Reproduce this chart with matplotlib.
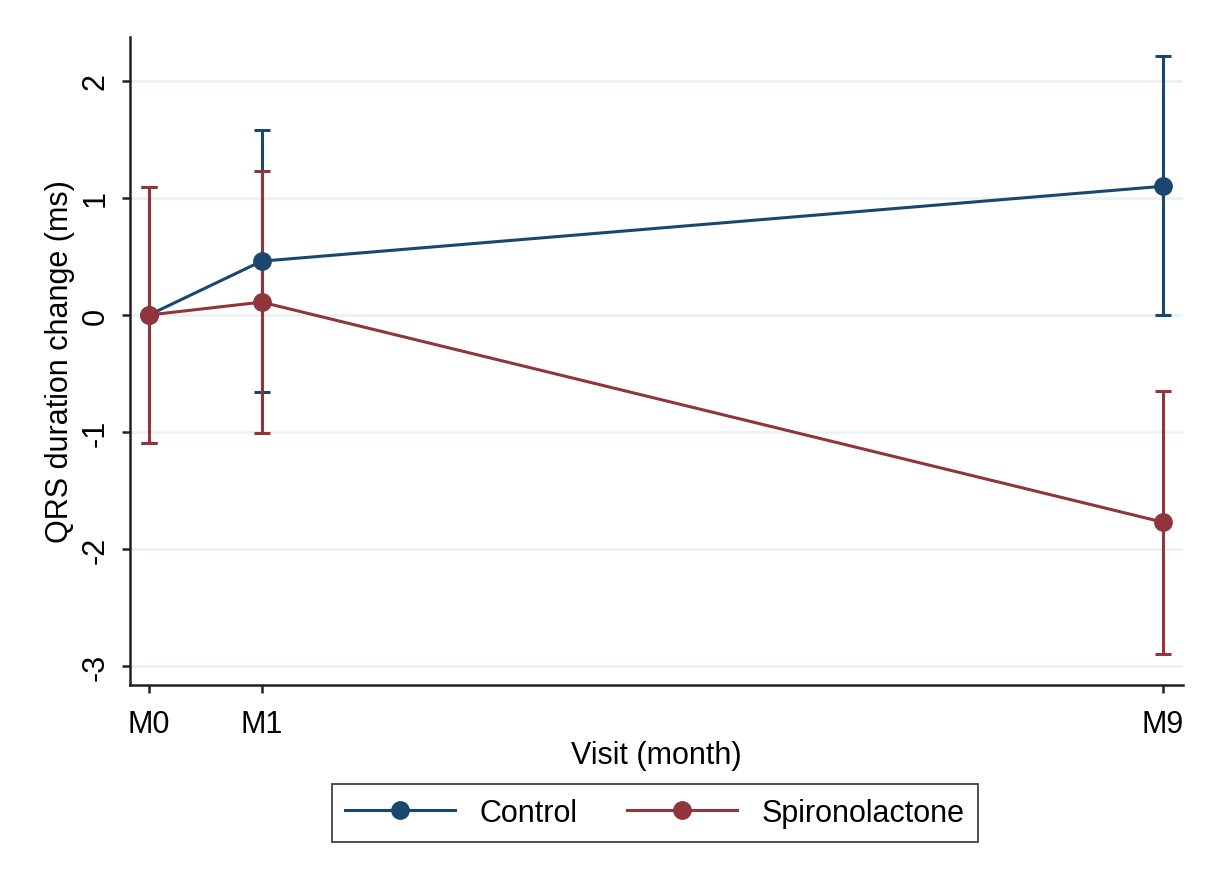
import matplotlib
matplotlib.use("Agg")
from matplotlib import pyplot as plt

plt.rcParams['font.family'] = ['Liberation Sans', 'DejaVu Sans']

# visit months and tick labels
months = [0, 1, 9]
visit_labels = ["M0", "M1", "M9"]

# mean change and 95% CI bounds (ms)
control_mean = [0.0, 0.46, 1.10]
control_lo = [-1.09, -0.66, 0.0]
control_hi = [1.09, 1.58, 2.21]

spiro_mean = [0.0, 0.11, -1.77]
spiro_lo = [-1.09, -1.01, -2.90]
spiro_hi = [1.09, 1.23, -0.65]

navy = "#1a476f"
maroon = "#90353b"

fig = plt.figure(figsize=(12.08, 8.79), dpi=100)
ax = fig.add_axes([0.1076, 0.2196, 0.8714, 0.7372])

def draw(mean, lo, hi, color, label):
    err = [[m - l for m, l in zip(mean, lo)], [h - m for m, h in zip(mean, hi)]]
    ax.errorbar(months, mean, yerr=err, fmt="none", ecolor=color,
                elinewidth=2.2, capsize=6, capthick=2.2, zorder=2)
    ax.plot(months, mean, color=color, lw=2.2, marker="o", markersize=12.5,
            label=label, zorder=3)

draw(control_mean, control_lo, control_hi, navy, "Control")
draw(spiro_mean, spiro_lo, spiro_hi, maroon, "Spironolactone")

ax.set_xlim(-0.169, 9.178)
ax.set_ylim(-3.162, 2.376)
ax.set_xticks(months)
ax.set_xticklabels(visit_labels)
ax.set_yticks([-3, -2, -1, 0, 1, 2])
ax.set_yticklabels(["-3", "-2", "-1", "0", "1", "2"], rotation=90, va="center")
ax.yaxis.grid(True, color="#eaf2f3", lw=2)
ax.set_axisbelow(True)

for s in ["top", "right"]:
    ax.spines[s].set_visible(False)
for s in ["left", "bottom"]:
    ax.spines[s].set_color("#222222")
    ax.spines[s].set_linewidth(1.8)
ax.tick_params(axis="both", labelsize=22, length=6, width=1.8, color="#222222")
ax.tick_params(axis="x", pad=11)
ax.tick_params(axis="y", pad=8)

ax.set_xlabel("Visit (month)", fontsize=22, labelpad=1)
ax.set_ylabel("QRS duration change (ms)", fontsize=22, labelpad=4)

leg = fig.legend(loc="center", bbox_to_anchor=(0.542, 0.074), ncol=2,
                 fontsize=22, frameon=True, fancybox=False, edgecolor="black",
                 handlelength=3.6, columnspacing=1.6, borderpad=0.45)
leg.get_frame().set_linewidth(1.2)

fig.savefig("out.png", dpi=100, facecolor="white")
